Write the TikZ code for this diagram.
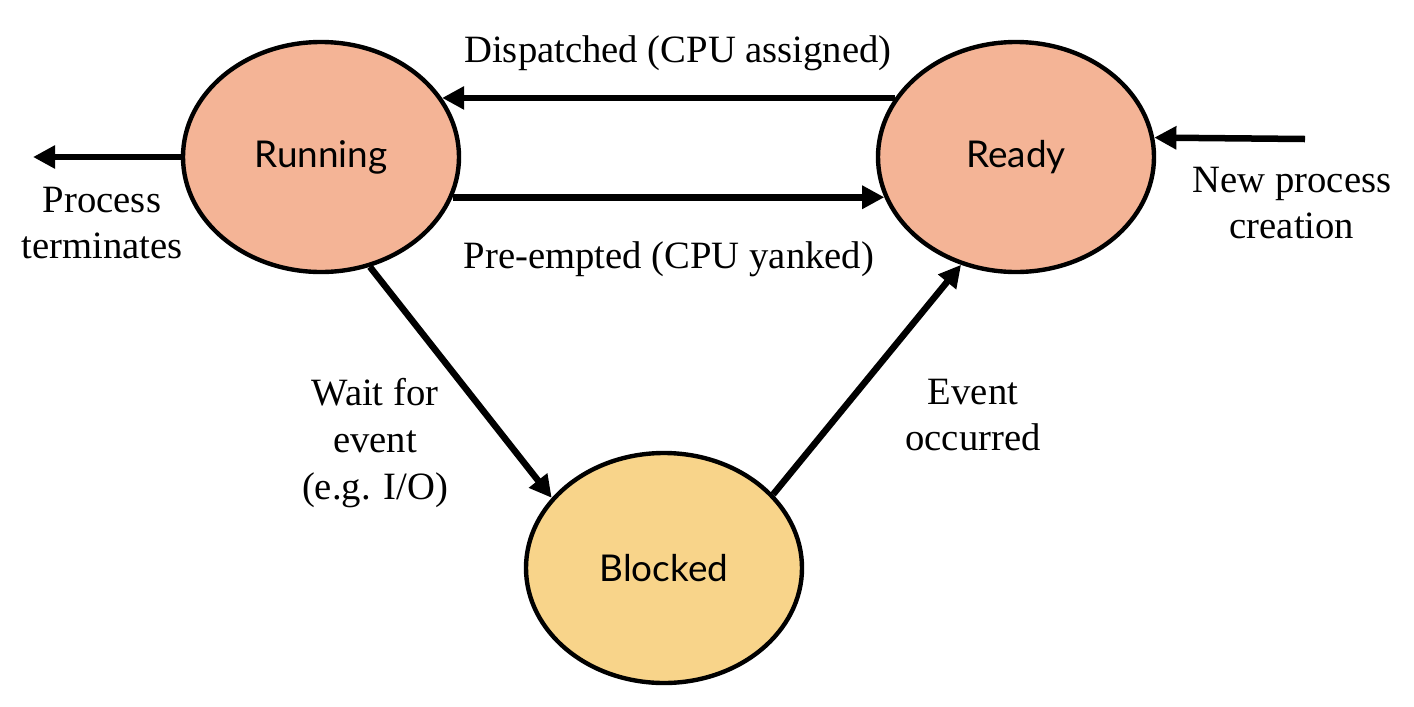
\documentclass[tikz,border=0pt]{standalone}
\usepackage{fontspec}
\setmainfont{Liberation Serif}
\newfontfamily\statefont{Lato}
\usetikzlibrary{shapes.geometric,arrows.meta}
\definecolor{prsalmon}{HTML}{F4B496}
\definecolor{prsand}{HTML}{F8D48A}
\tikzset{
  prstate/.style={ellipse, draw=black, line width=1.25pt, minimum width=2.76cm,
    minimum height=2.3cm, inner sep=0pt, font=\statefont\fontsize{10.5}{12}\selectfont},
  prhot/.style={prstate, fill=prsalmon},
  prwait/.style={prstate, fill=prsand},
  prarrow/.style={line width=1.85pt, draw=black, -{Triangle[length=6.3pt,width=6.3pt]}},
  prtext/.style={align=center, inner sep=0pt, font=\fontsize{11}{13.3}\selectfont},
}
\begin{document}
\begin{tikzpicture}
\useasboundingbox (0,0) rectangle (14.14,7.06);
\node[prhot] (running) at (3.21,5.49) {Running};
\node[prhot] (ready) at (10.16,5.49) {Ready};
\node[prwait] (blocked) at (6.64,1.38) {Blocked};
\coordinate (exit) at (0.33,5.49);
\coordinate (newproc) at (13.05,5.67);
\draw[prarrow] (running.west) -- (exit);
\draw[prarrow] (ready.154) -- (running.26);
\draw[prarrow] (running.-17) -- (ready.197);
\draw[prarrow] (newproc) -- (ready.8);
\draw[prarrow] (running.-66) -- (blocked.148);
\draw[prarrow] (blocked.34) -- (ready.243);
\node[prtext] (dispatch) at (6.78,6.53) {Dispatched (CPU assigned)};
\node[prtext] (preempt) at (6.69,4.47) {Pre-empted (CPU yanked)};
\node[prtext] (term) at (1.02,4.83) {Process\\terminates};
\node[prtext] (create) at (12.92,5.03) {New process\\creation};
\node[prtext] (waitev) at (3.75,2.63) {Wait for\\event\\(e.g. I/O)};
\node[prtext] (occur) at (9.73,2.91) {Event\\occurred};
\end{tikzpicture}
\end{document}
